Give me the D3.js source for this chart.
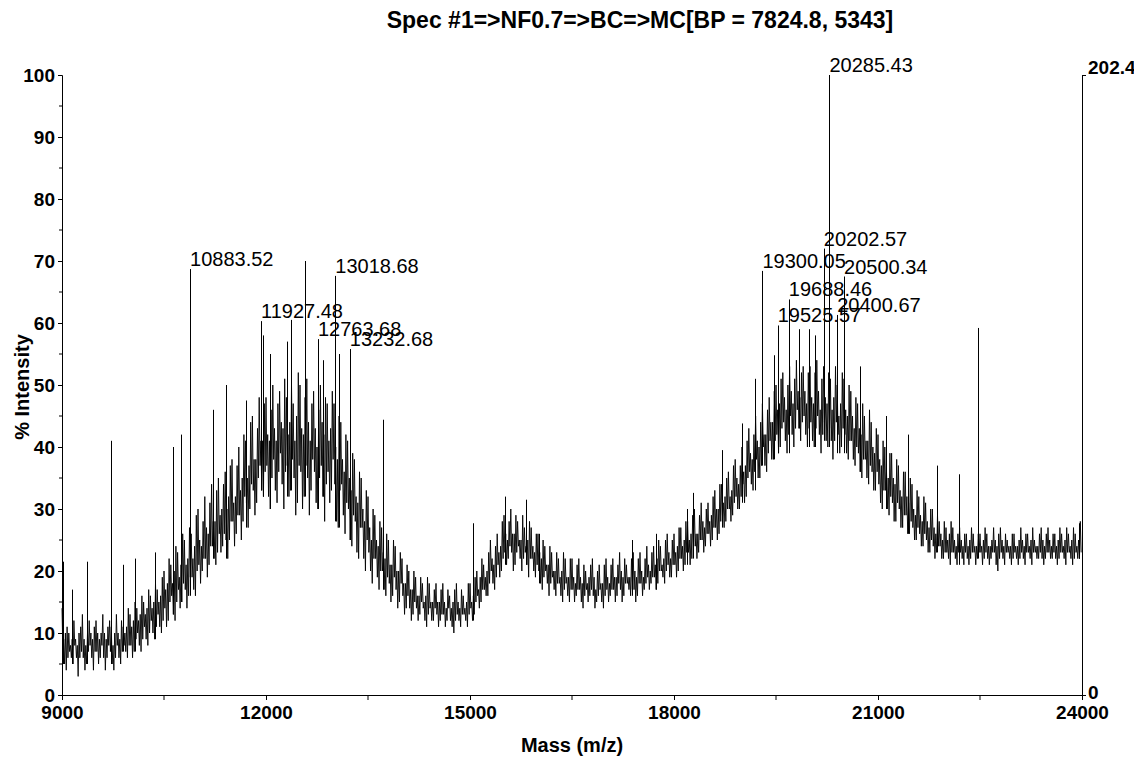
<!DOCTYPE html>
<html>
<head>
<meta charset="utf-8">
<script src="https://cdn.jsdelivr.net/npm/d3@7"></script>
<style>
  html, body { margin: 0; padding: 0; background: #fff; }
  svg { display: block; }
  text { font-family: "Liberation Sans", Arial, sans-serif; fill: #000; }
</style>
</head>
<body>
<svg id="chart" width="1134" height="758"></svg>
<script>
// ---------------- DATA ----------------
const title = "Spec #1=>NF0.7=>BC=>MC[BP = 7824.8, 5343]";
const xLabel = "Mass (m/z)";
const yLabel = "% Intensity";
const rightTopLabel = "202.4";
const rightBottomLabel = "0";
const xTickValues = [9000, 12000, 15000, 18000, 21000, 24000];
const yTickValues = [0, 10, 20, 30, 40, 50, 60, 70, 80, 90, 100];

// Spectrum trace, 50 Da bins from 9000 to 24000 (% intensity):
// per bin the highest point, lowest point, and the inner (typical) high / low points
const binStartMass = 9000;
const binWidth = 50;
const traceHi = [
  14,11,10,12,9,11,13,10,12,11,
  12,10,13,11,12,10,13,12,11,14,
  13,15,14,16,15,17,16,18,17,19,
  20,22,21,24,23,26,25,27,26,29,
  30,28,32,31,34,33,35,34,36,37,
  38,37,40,42,41,44,45,43,48,47,
  48,46,50,47,49,51,48,50,47,52,
  50,48,51,47,49,46,50,48,47,49,
  47,45,44,42,41,39,38,36,35,33,
  32,30,29,28,27,26,25,25,24,23,
  22,21,20,20,19,19,18,19,18,17,
  18,17,18,17,16,17,18,17,16,18,
  18,19,20,22,21,23,25,24,26,28,
  29,28,30,29,28,29,27,28,27,26,
  26,25,24,24,23,23,22,23,22,22,
  22,21,22,21,20,21,22,20,21,21,
  22,21,22,21,23,22,21,22,23,22,
  23,22,24,23,24,25,24,25,26,25,
  26,27,27,28,28,29,30,29,31,30,
  31,32,33,34,34,35,36,37,38,37,
  40,41,43,42,45,44,47,46,48,49,
  50,51,52,50,53,51,54,52,53,52,
  53,52,54,51,53,52,51,53,50,52,
  51,50,49,48,47,47,45,46,44,43,
  42,41,40,39,39,38,37,36,36,35,
  34,33,32,32,31,30,30,29,28,28,
  27,28,27,26,27,26,26,27,26,26,
  26,27,26,25,27,26,27,26,25,26,
  26,25,27,26,26,27,25,26,27,26,
  27,26,26,27,26,27,26,27,26,28
];
const traceLo = [
  5,4,6,5,3,6,4,5,6,4,
  5,6,4,6,5,4,6,5,7,6,
  6,7,8,7,9,8,10,9,11,10,
  11,12,13,12,14,15,14,16,17,16,
  18,20,19,21,22,21,23,24,22,25,
  24,26,25,28,27,30,29,31,33,32,
  32,30,33,31,34,30,32,33,29,31,
  30,32,29,33,31,30,32,28,31,33,
  28,27,29,26,25,24,23,22,22,20,
  20,18,19,17,17,16,15,16,14,15,
  13,14,12,13,12,13,12,11,12,12,
  11,12,11,12,11,10,12,11,12,11,
  12,13,14,15,16,16,18,17,19,20,
  21,22,20,21,22,20,21,19,20,19,
  18,17,18,16,17,16,16,15,16,15,
  15,16,15,14,15,16,14,15,15,14,
  15,16,15,16,15,16,17,16,15,16,
  16,17,17,18,17,18,19,18,19,19,
  19,20,20,21,21,22,22,23,23,24,
  24,25,25,26,27,28,28,29,30,30,
  31,32,34,33,35,35,37,36,38,38,
  39,40,41,39,42,40,43,41,42,40,
  41,40,42,39,41,40,38,41,39,40,
  39,38,38,37,36,35,35,34,33,33,
  31,30,30,29,28,28,27,27,26,26,
  25,25,24,24,23,23,22,23,22,22,
  22,21,22,21,22,21,21,22,21,22,
  21,22,21,22,21,20,22,21,22,21,
  22,21,22,21,22,21,22,22,21,22,
  22,22,21,22,22,21,22,21,22,22
];
const traceMidHi = [
  9,10,8,9,8,10,9,8,10,9,
  10,9,10,9,11,8,10,9,10,11,
  11,12,12,13,13,14,14,15,15,16,
  17,18,18,20,19,21,21,22,22,24,
  25,24,27,26,28,28,29,30,30,32,
  31,32,33,35,35,37,38,38,41,41,
  42,41,43,41,44,43,42,44,41,45,
  43,42,44,41,43,40,44,42,41,43,
  40,38,38,36,35,33,32,31,30,28,
  27,25,25,24,23,22,21,21,20,20,
  18,18,17,17,16,16,15,16,15,15,
  15,15,15,14,14,15,15,14,14,15,
  15,16,17,19,19,20,22,21,23,24,
  26,25,26,26,25,25,24,25,24,23,
  23,22,21,21,20,20,19,20,19,19,
  19,18,19,18,18,19,19,17,18,18,
  19,18,19,19,20,19,19,19,20,19,
  20,19,21,20,21,22,21,22,23,22,
  23,24,24,25,25,26,26,26,28,27,
  28,29,30,30,31,32,32,33,35,34,
  36,37,39,38,41,40,42,42,44,44,
  46,47,48,46,49,47,49,48,49,47,
  48,47,49,46,48,47,46,48,45,47,
  46,45,45,43,43,42,41,41,40,39,
  38,37,36,35,35,34,33,32,32,31,
  30,29,29,28,28,27,27,26,26,25,
  25,26,25,24,25,24,24,25,24,24,
  24,25,24,24,25,24,25,24,24,24,
  24,24,25,24,24,25,24,24,25,24,
  25,24,24,25,24,25,24,25,24,25
];
const traceMidLo = [
  7,6,7,8,6,7,6,7,8,7,
  7,8,6,8,7,6,8,7,8,8,
  8,9,10,9,11,10,12,11,13,12,
  14,15,16,15,17,18,17,19,19,20,
  21,22,22,24,24,23,26,26,25,28,
  28,29,29,32,31,34,33,35,37,36,
  37,35,38,36,39,36,37,38,35,37,
  36,37,35,38,36,35,37,34,36,38,
  34,33,34,31,30,29,28,27,27,25,
  23,22,22,20,20,19,18,19,17,18,
  16,16,14,15,14,15,14,13,14,14,
  13,13,13,14,12,12,13,13,13,13,
  14,15,16,17,17,18,20,19,21,22,
  23,24,23,23,24,22,23,22,22,21,
  20,19,20,18,19,18,18,17,18,17,
  17,17,17,16,17,17,16,16,17,16,
  17,17,17,18,17,18,18,17,17,18,
  18,18,19,19,19,20,20,20,21,21,
  21,22,22,23,23,24,24,25,25,26,
  26,27,27,28,29,30,30,31,32,32,
  34,35,36,36,38,37,40,39,41,41,
  42,43,44,42,45,43,46,44,45,43,
  44,43,45,42,44,43,41,44,42,43,
  42,41,41,40,39,38,38,37,36,36,
  34,33,33,32,31,31,30,29,29,28,
  27,27,26,26,25,25,24,24,24,23,
  23,23,23,23,23,23,22,23,23,23,
  23,23,22,23,23,22,23,23,23,22,
  23,22,23,23,23,23,23,23,22,23,
  23,23,22,23,23,23,23,22,23,23
];

// Sharp single peaks (mass, % intensity)
const spikeMass = [9010, 9150, 9370, 9720, 9900, 10070, 10370, 10630, 10750, 10883.52,
  11220, 11410, 11700, 11927.48, 11960, 12060, 12310, 12370, 12575, 12763.68, 12840,
  13018.68, 13080, 13232.68, 13720, 15040, 15510, 15820, 16010, 17380, 17740, 18190,
  18280, 18710, 19000, 19190, 19300.05, 19470, 19525.57, 19688.46, 19840, 19980, 20080,
  20202.57, 20285.43, 20400.67, 20500.34, 20730, 21120, 21440, 21870, 22190, 22470, 23950];
const spikeIntensity = [21.5, 17, 21.5, 41, 21, 22, 23, 40, 42, 68.7,
  46, 50, 47.5, 60.3, 58, 55, 57, 60.5, 70, 57.4, 54,
  67.6, 55, 55.8, 44.4, 27.7, 32, 31.5, 26, 25, 26, 30,
  32.6, 39.5, 43.8, 51, 68.4, 54.8, 59.6, 63.8, 59, 59, 58,
  72, 100, 61.3, 67.5, 53, 45, 42, 37, 35.6, 59.2, 27.7];

// Annotated peaks
const peakLabels = ["10883.52", "11927.48", "12763.68", "13018.68", "13232.68",
  "19300.05", "19525.57", "19688.46", "20202.57", "20285.43", "20400.67", "20500.34"];

// ---------------- CHART ----------------
const svg = d3.select("#chart");
const margin = { left: 62, right: 1082, top: 75, bottom: 695 };

const x = d3.scaleLinear().domain([9000, 24000]).range([margin.left, margin.right]);
const y = d3.scaleLinear().domain([0, 100]).range([margin.bottom, margin.top]);

// trace: within each bin visit its four readings (order alternates between bins)
const tracePts = [];
traceHi.forEach((h, i) => {
  const m = binStartMass + i * binWidth;
  const seq = (i % 2 === 0)
    ? [h, traceMidLo[i], traceMidHi[i], traceLo[i]]
    : [traceMidHi[i], traceLo[i], h, traceMidLo[i]];
  seq.forEach((v, k) => tracePts.push([m + k * binWidth / 4, v]));
});
const line = d3.line().x(d => x(d[0])).y(d => y(d[1]));
svg.append("path")
  .attr("d", line(tracePts))
  .attr("fill", "none")
  .attr("stroke", "#000")
  .attr("stroke-width", 0.9);

// spikes
const spikes = spikeMass.map((m, i) => {
  const bi = Math.max(0, Math.min(traceLo.length - 1, Math.floor((m - binStartMass) / binWidth)));
  return { m, v: spikeIntensity[i], base: traceLo[bi] };
});
svg.append("g").selectAll("line").data(spikes).join("line")
  .attr("x1", d => Math.round(x(d.m)) + 0.5)
  .attr("x2", d => Math.round(x(d.m)) + 0.5)
  .attr("y1", d => y(d.base))
  .attr("y2", d => y(d.v))
  .attr("stroke", "#000")
  .attr("stroke-width", 1);

// peak labels
const labelled = peakLabels.map(l => spikes.find(s => Math.abs(s.m - (+l)) < 0.01));
svg.append("g").selectAll("text").data(labelled).join("text")
  .attr("x", d => x(d.m))
  .attr("y", d => y(d.v) - 3)
  .attr("font-size", 20)
  .text((d, i) => peakLabels[i]);

// axes
const axisColor = "#000";
const yAxis = d3.axisLeft(y).tickValues(yTickValues).tickSize(4).tickPadding(3);
const gy = svg.append("g").attr("transform", `translate(${margin.left},0)`).call(yAxis);
gy.selectAll("text").attr("font-size", 19).attr("font-weight", "bold").attr("dy", "0.34em");
// minor y ticks
svg.append("g").selectAll("line").data(d3.range(5, 100, 10)).join("line")
  .attr("x1", margin.left - 3).attr("x2", margin.left)
  .attr("y1", d => y(d)).attr("y2", d => y(d)).attr("stroke", axisColor);

const xAxis = d3.axisBottom(x).tickValues(xTickValues).tickSize(5).tickPadding(4).tickFormat(d3.format("d"));
const gx = svg.append("g").attr("transform", `translate(0,${margin.bottom})`).call(xAxis);
gx.selectAll("text").attr("font-size", 19).attr("font-weight", "bold").attr("dy", "0.78em");
// minor x ticks
svg.append("g").selectAll("line").data(d3.range(10500, 24000, 3000)).join("line")
  .attr("x1", d => x(d)).attr("x2", d => x(d))
  .attr("y1", margin.bottom).attr("y2", margin.bottom + 5).attr("stroke", axisColor);

[gx, gy].forEach(g => { g.select(".domain").attr("stroke", axisColor); g.selectAll(".tick line").attr("stroke", axisColor); });

// right axis
const yRight = d3.scaleLinear().domain([0, 202.4]).range([margin.bottom, margin.top]);
const gr = svg.append("g").attr("transform", `translate(${margin.right},0)`)
  .call(d3.axisRight(yRight).tickValues([0, 202.4]).tickSize(4).tickPadding(2).tickFormat((d, i) => i ? rightTopLabel : rightBottomLabel));
gr.selectAll("text").attr("font-size", 19).attr("font-weight", "bold");
gr.selectAll(".tick").filter((d, i) => i === 1).select("text").attr("dy", "-0.1em");
gr.selectAll(".tick").filter((d, i) => i === 0).select("text").attr("dy", "0.2em");

// title & axis labels
svg.append("text").attr("x", 640).attr("y", 28).attr("text-anchor", "middle")
  .attr("font-size", 23).attr("font-weight", "bold").text(title);
svg.append("text").attr("x", 572).attr("y", 752).attr("text-anchor", "middle")
  .attr("font-size", 20).attr("font-weight", "bold").text(xLabel);
svg.append("text").attr("transform", "translate(29,387) rotate(-90)").attr("text-anchor", "middle")
  .attr("font-size", 20).attr("font-weight", "bold").text(yLabel);
</script>
</body>
</html>
